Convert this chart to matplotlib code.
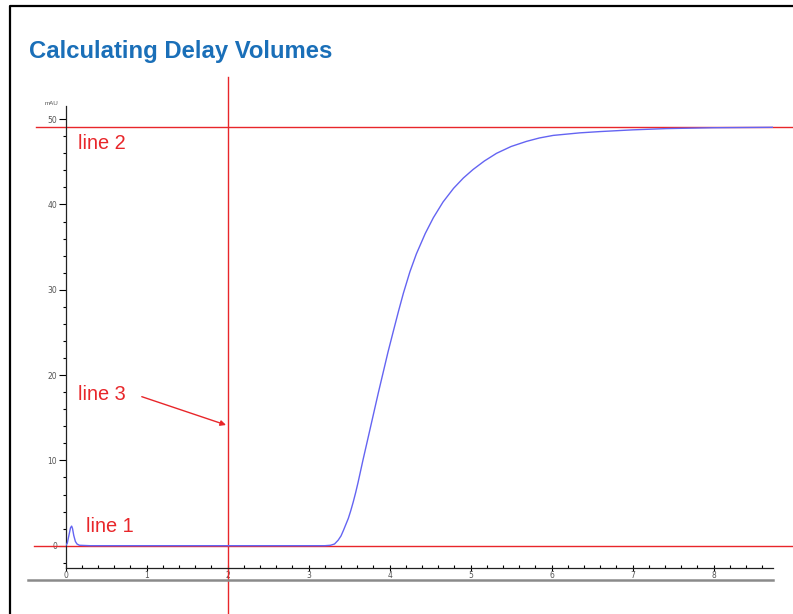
import matplotlib
matplotlib.use("Agg")
import matplotlib.pyplot as plt
from matplotlib.lines import Line2D

# tiempo (min) y absorbancia (mAU) del escalon de gradiente
tiempo = [0.0, 0.02, 0.04, 0.06, 0.074, 0.085, 0.10, 0.12, 0.14, 0.17, 0.3,
          1.0, 2.0, 3.0, 3.2, 3.27, 3.32, 3.365, 3.40, 3.43, 3.46, 3.49, 3.52,
          3.55, 3.58, 3.61, 3.67, 3.74, 3.80, 3.86, 3.92, 3.98, 4.05, 4.11,
          4.17, 4.25, 4.33, 4.44, 4.54, 4.66, 4.79, 4.91, 5.03, 5.17, 5.32,
          5.50, 5.69, 5.85, 6.02, 6.35, 6.60, 7.0, 7.42, 8.0, 8.73]
absorbancia = [0.0, 0.3, 1.2, 2.1, 2.3, 2.0, 1.2, 0.5, 0.2, 0.05, 0.0,
               0.0, 0.0, 0.0, 0.0, 0.05, 0.2, 0.65, 1.15, 1.8, 2.5, 3.2, 4.1,
               5.1, 6.2, 7.4, 10.0, 12.9, 15.4, 17.9, 20.3, 22.7, 25.3, 27.5,
               29.6, 32.1, 34.2, 36.6, 38.45, 40.3, 41.9, 43.1, 44.1, 45.1, 46.0,
               46.8, 47.4, 47.8, 48.1, 48.4, 48.55, 48.75, 48.9, 49.0, 49.05]

linea1 = 0.0    # linea base
linea2 = 49.1   # meseta
linea3 = 2.0    # inicio del gradiente

x_ticks = [0, 1, 2, 3, 4, 5, 6, 7, 8]
y_ticks = [0, 10, 20, 30, 40, 50]

rojo = "#e8262a"
azul = "#6464f2"
gris = "#555555"

fig = plt.figure(figsize=(7.93, 6.14), dpi=100)
ax = fig.add_axes([0.0828, 0.0754, 0.8916, 0.752])

ax.plot(tiempo, absorbancia, color=azul, lw=1.0, zorder=3)

ax.set_xlim(0, 8.73)
ax.set_ylim(-2.58, 51.55)

for lado in ["top", "right"]:
    ax.spines[lado].set_visible(False)
for lado in ["left", "bottom"]:
    ax.spines[lado].set_linewidth(0.9)
    ax.spines[lado].set_color("#222222")

ax.set_xticks(x_ticks)
ax.set_xticks([t / 5 for t in range(0, 44)], minor=True)
ax.set_yticks(y_ticks)
ax.set_yticks(list(range(-2, 52, 2)), minor=True)

ax.tick_params(axis="x", which="major", direction="inout", length=5, width=0.8,
               labelsize=5.5, labelcolor=gris, pad=0)
ax.tick_params(axis="x", which="minor", direction="in", length=2, width=0.8)
ax.tick_params(axis="y", which="major", direction="out", length=5, width=0.8,
               labelsize=5.5, labelcolor=gris, pad=1)
ax.tick_params(axis="y", which="minor", direction="out", length=2.5, width=0.8)

ax.text(-0.01, 1.0, "mAU", transform=ax.transAxes, ha="right", va="bottom",
        fontsize=4.5, color=gris, family="Liberation Sans")

# lineas de referencia rojas que salen del area de ejes
ax.axhline(linea1, xmin=-0.0444, xmax=1.03, color=rojo, lw=1.0, clip_on=False, zorder=2)
ax.axhline(linea2, xmin=-0.042, xmax=1.03, color=rojo, lw=1.0, clip_on=False, zorder=2)
ax.axvline(linea3, ymin=-0.1003, ymax=1.062, color=rojo, lw=1.0, clip_on=False, zorder=2)

etiqueta = dict(color=rojo, fontsize=14.4, family="Liberation Sans", va="center", ha="left")
ax.text(0.15, 47.1, "line 2", **etiqueta)
ax.text(0.15, 17.67, "line 3", **etiqueta)
ax.text(0.25, 2.2, "line 1", **etiqueta)

ax.annotate("", xy=(1.98, 14.15), xytext=(0.94, 17.47),
            arrowprops=dict(arrowstyle="-|>", color=rojo, lw=1.0,
                            mutation_scale=8, shrinkA=0, shrinkB=0))

# linea gris bajo el eje x y marco negro
fig.add_artist(Line2D([27.7 / 793, 773 / 793], [1 - 580 / 614] * 2,
                      transform=fig.transFigure, color="#8a8a8a", lw=1.8))
fig.add_artist(Line2D([10 / 793, 10 / 793, 1.0], [0.0, 1 - 5.7 / 614, 1 - 5.7 / 614],
                      transform=fig.transFigure, color="black", lw=1.6))

fig.text(29.3 / 793, 1 - 58.3 / 614, "Calculating Delay Volumes",
         family="Liberation Sans", weight="bold",
         fontsize=17.2, color="#1a6fb8", ha="left", va="baseline")

fig.savefig("out.png", dpi=100)
